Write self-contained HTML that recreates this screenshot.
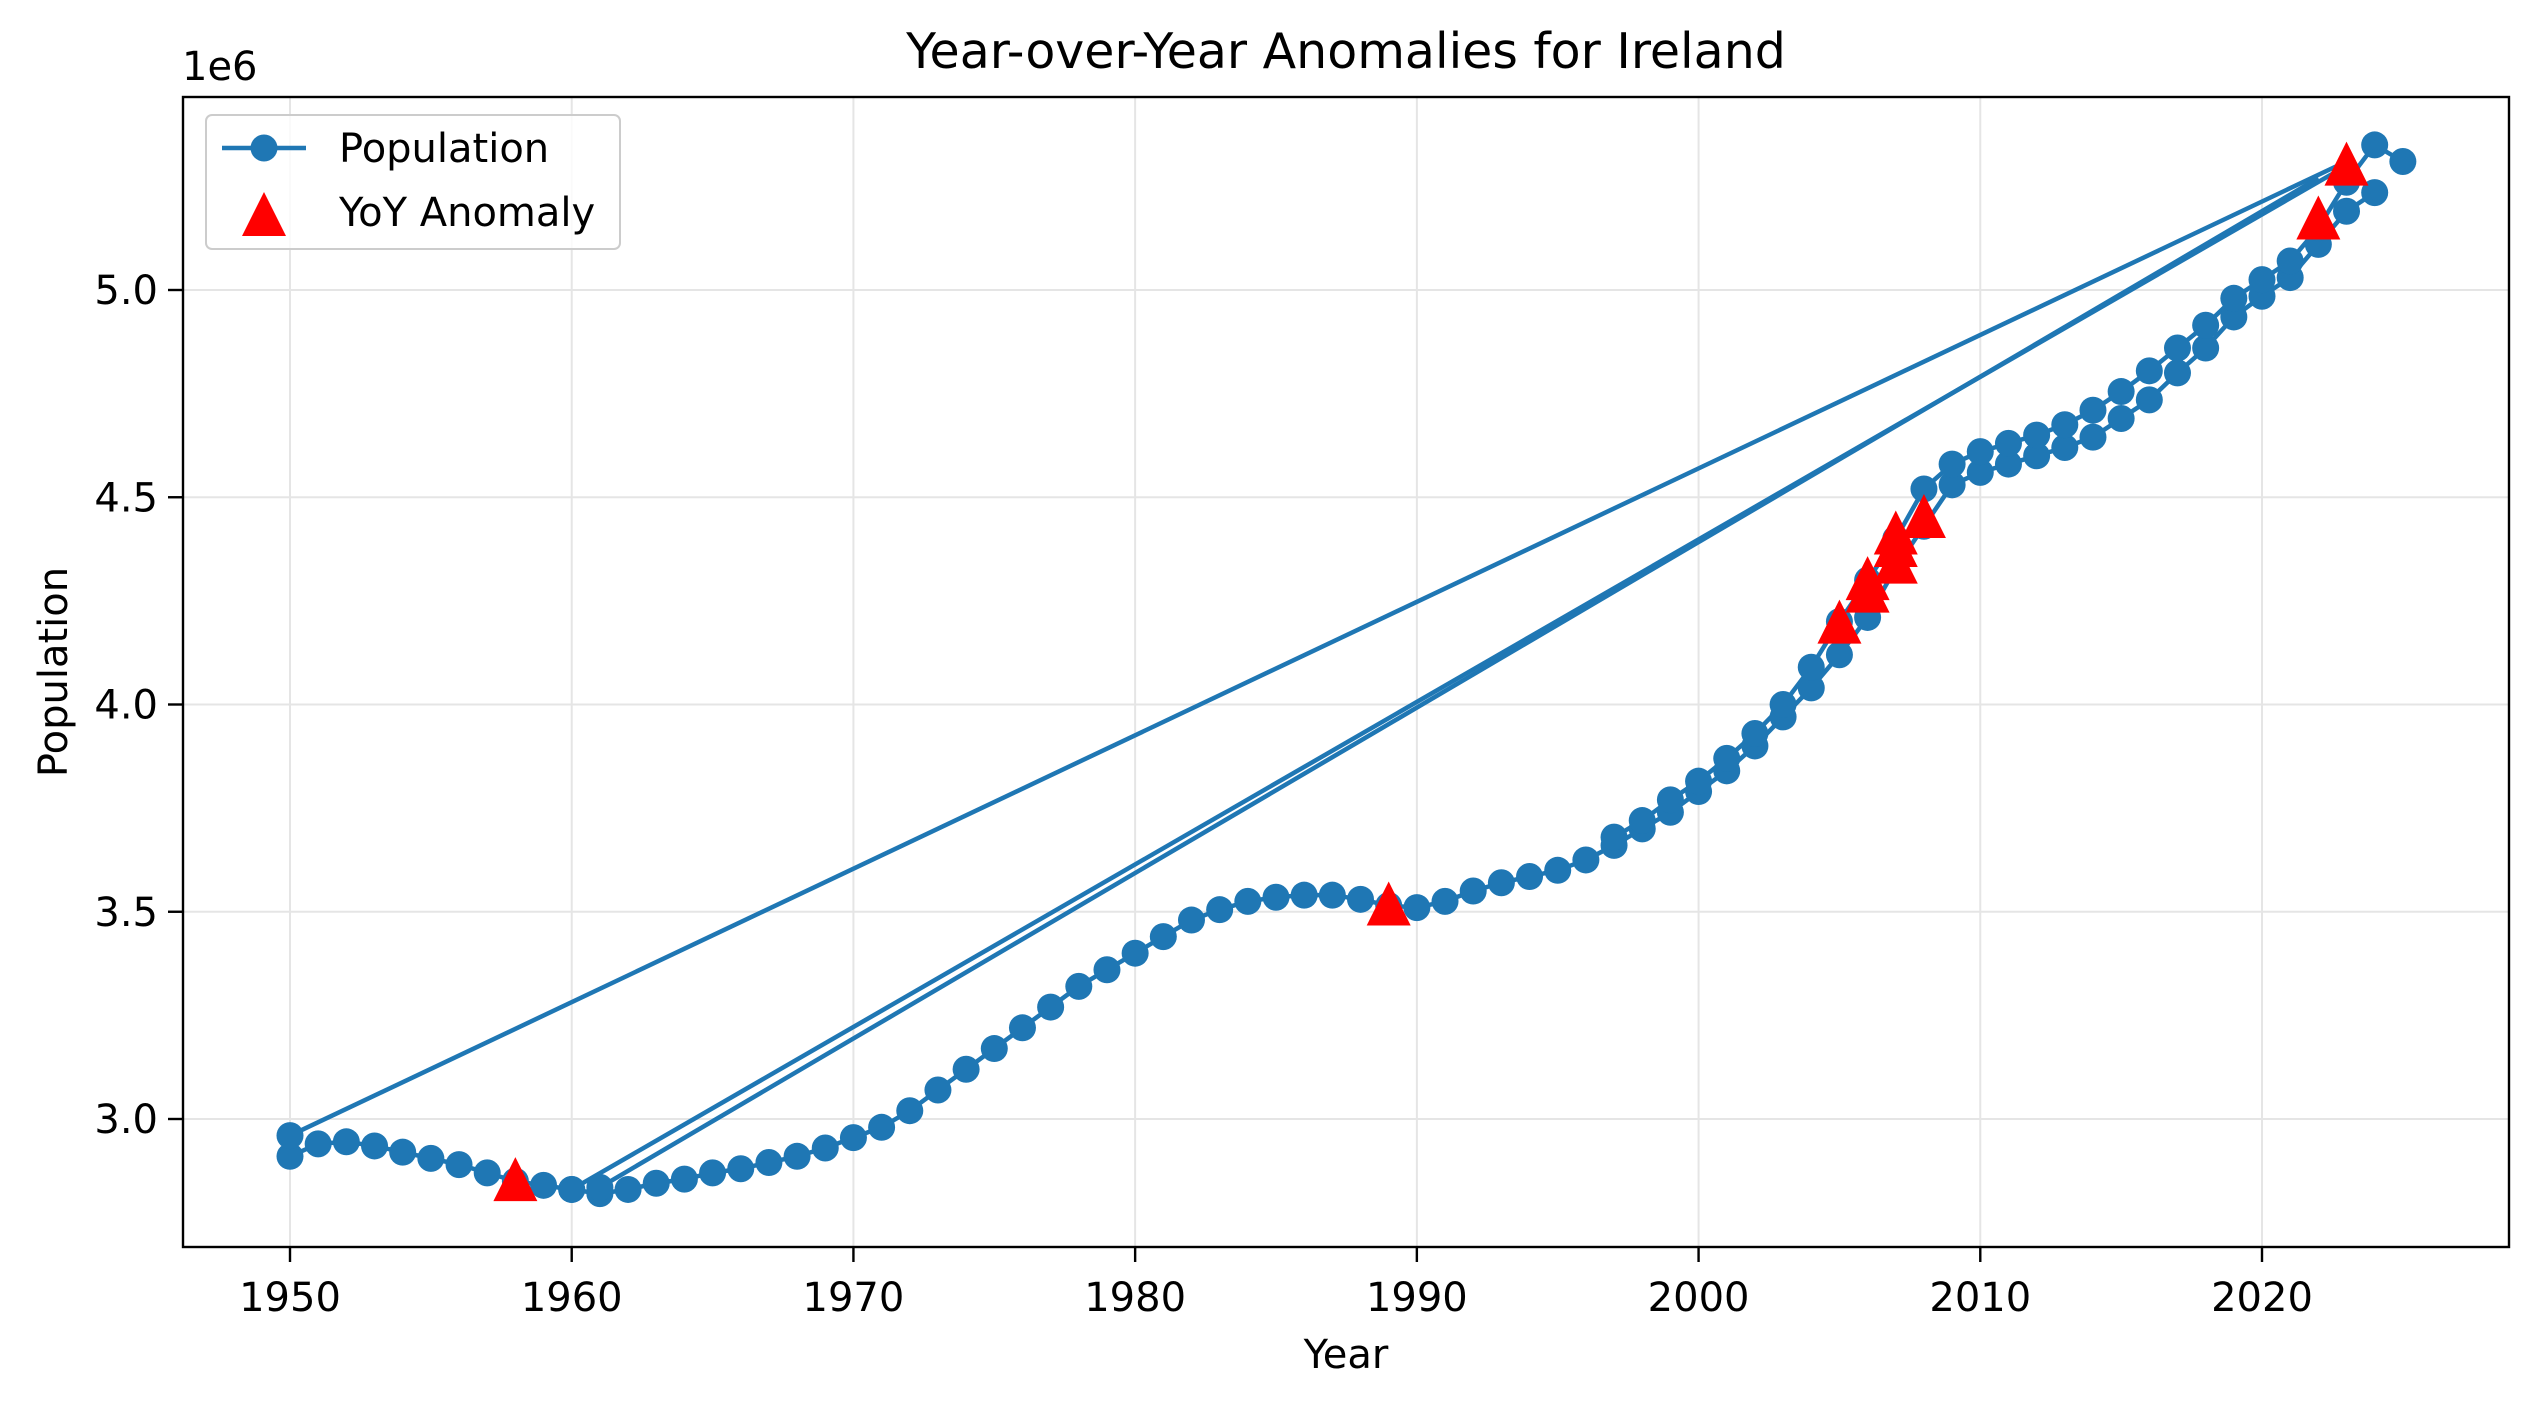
<!DOCTYPE html>
<html><head><meta charset="utf-8"><style>
html,body{margin:0;padding:0;background:#fff}
svg{display:block;font-family:"DejaVu Sans","Liberation Sans",sans-serif}
</style></head><body>
<svg id="chart" width="2539" height="1407" viewBox="0 0 2539 1407">
<rect width="2539" height="1407" fill="#fff"/>
<g id="grid"></g>
<g id="plot"></g>
<rect x="183" y="97" width="2326" height="1150" fill="none" stroke="#000" stroke-width="2.4"/>
<g id="axes"></g>
<text x="1346" y="68" font-size="49" text-anchor="middle">Year-over-Year Anomalies for Ireland</text>
<text x="1346" y="1368" font-size="40" text-anchor="middle">Year</text>
<text x="0" y="0" font-size="40" text-anchor="middle" transform="translate(67,672) rotate(-90)">Population</text>
<text x="182" y="80" font-size="40">1e6</text>
<g>
<rect x="206" y="115" width="414" height="134" rx="6" fill="#fff" fill-opacity="0.8" stroke="#ccc" stroke-width="2"/>
<line x1="222" y1="148" x2="306" y2="148" stroke="#1f77b4" stroke-width="4.5"/>
<circle cx="264" cy="148" r="13.5" fill="#1f77b4"/>
<text x="339" y="162" font-size="40">Population</text>
<polygon points="264,192 242,236 286,236" fill="#f00"/>
<text x="339" y="226" font-size="40">YoY Anomaly</text>
</g>
</svg>
<script>
const xTicks = [1950,1960,1970,1980,1990,2000,2010,2020];
const yTicks = [3.0,3.5,4.0,4.5,5.0];
const lowerYears = [];
for (let y=1950;y<=2024;y++) lowerYears.push(y);
const lowerValues = [2.91,2.94,2.945,2.935,2.92,2.905,2.89,2.87,2.85,2.84,2.83,2.82,2.83,2.845,2.855,2.87,2.88,2.895,2.91,2.93,2.955,2.98,3.02,3.07,3.12,3.17,3.22,3.27,3.32,3.36,3.40,3.44,3.48,3.505,3.525,3.535,3.54,3.54,3.53,3.515,3.51,3.525,3.55,3.57,3.585,3.60,3.625,3.66,3.70,3.74,3.79,3.84,3.90,3.97,4.04,4.12,4.21,4.33,4.43,4.53,4.56,4.58,4.60,4.62,4.645,4.69,4.735,4.80,4.86,4.935,4.985,5.03,5.11,5.19,5.235];
const upperYears = [1997,1998,1999,2000,2001,2002,2003,2004,2005,2006,2007,2008,2009,2010,2011,2012,2013,2014,2015,2016,2017,2018,2019,2020,2021,2022,2023,2024,2025];
const upperValues = [3.68,3.72,3.77,3.815,3.87,3.93,4.00,4.09,4.20,4.30,4.40,4.52,4.58,4.61,4.63,4.65,4.675,4.71,4.755,4.805,4.86,4.915,4.98,5.025,5.07,5.15,5.26,5.35,5.31];
const jumpStartYears = [1950,1960,1961];
const jumpStartValues = [2.96,2.83,2.835];
const jumpEndYears = [2023,2023,2022];
const jumpEndValues = [5.31,5.30,5.27];
const anomalyYears = [1958,1989,2005,2006,2006,2007,2007,2007,2008,2022,2023];
const anomalyValues = [2.85,3.515,4.195,4.27,4.30,4.34,4.38,4.41,4.45,5.17,5.30];

const X0=290, X1=2262, Y0=1119, Y1=290;
const sx = v => X0 + (v-1950)*(X1-X0)/70;
const sy = v => Y0 - (v-3.0)*(Y0-Y1)/2.0;
const NS='http://www.w3.org/2000/svg';
const grid=document.getElementById('grid'), plot=document.getElementById('plot'), axes=document.getElementById('axes');
function mk(tag,attrs,parent){const e=document.createElementNS(NS,tag);for(const k in attrs)e.setAttribute(k,attrs[k]);parent.appendChild(e);return e;}

xTicks.forEach(t=>{
  const g=mk('line',{x1:sx(t),x2:sx(t),y1:97,y2:1247,stroke:'#e5e5e5','stroke-width':2},grid);
  
  
  const tk=mk('line',{x1:sx(t),x2:sx(t),y1:1247,y2:1262,stroke:'#000','stroke-width':2.4},axes);
  
  
  const tx=mk('text',{x:sx(t),y:1311,'font-size':40,'text-anchor':'middle'},axes);
  tx.textContent=t;
  
  
});
yTicks.forEach(t=>{
  const g=mk('line',{x1:183,x2:2509,y1:sy(t),y2:sy(t),stroke:'#e5e5e5','stroke-width':2},grid);
  
  
  const tk=mk('line',{x1:168,x2:183,y1:sy(t),y2:sy(t),stroke:'#000','stroke-width':2.4},axes);
  
  
  const tx=mk('text',{x:158,y:sy(t)+14,'font-size':40,'text-anchor':'end'},axes);
  tx.textContent=t.toFixed(1);
  
  
});
function polyline(ys,vs,name){
  const p=mk('polyline',{points:ys.map((y,i)=>sx(y)+','+sy(vs[i])).join(' '),fill:'none',stroke:'#1f77b4','stroke-width':4.5,'stroke-linejoin':'round'},plot);
  
  
}
jumpStartYears.forEach((y,i)=>polyline([y,jumpEndYears[i]],[jumpStartValues[i],jumpEndValues[i]],'population-jump-line'));
polyline(lowerYears,lowerValues,'population-line-lower');
polyline(upperYears,upperValues,'population-line-upper');
function dots(ys,vs){
  ys.forEach((y,i)=>{
    const c=mk('circle',{cx:sx(y),cy:sy(vs[i]),r:13.5,fill:'#1f77b4'},plot);
    
    
  });
}
dots(lowerYears,lowerValues);
dots(upperYears,upperValues);
dots(jumpStartYears,jumpStartValues);
anomalyYears.forEach((y,i)=>{
  const cx=sx(y), cy=sy(anomalyValues[i]);
  const t=mk('polygon',{points:`${cx},${cy-24} ${cx-22},${cy+20} ${cx+22},${cy+20}`,fill:'#f00'},plot);
  
  
});
</script>
</body></html>
